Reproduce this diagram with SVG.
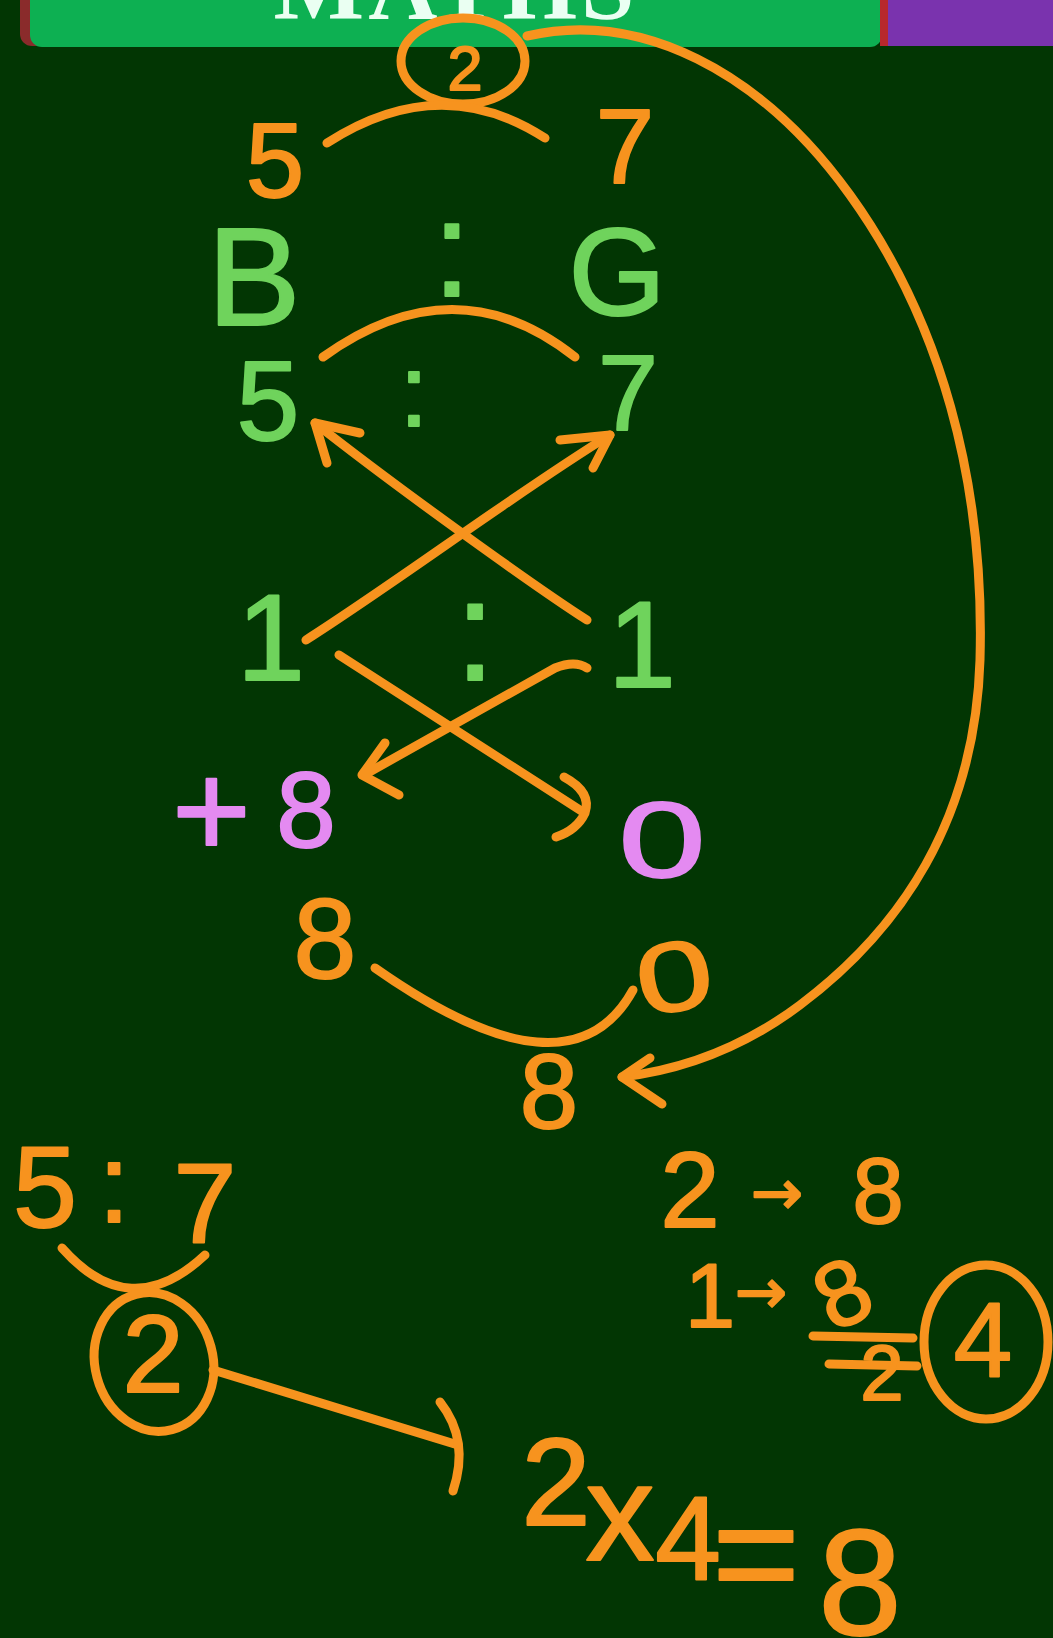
<svg xmlns="http://www.w3.org/2000/svg" width="1053" height="1638" viewBox="0 0 1053 1638">
<style>
.hw{font-family:"Liberation Sans","Arial",sans-serif;stroke-linejoin:round;stroke-width:2}
.o{fill:#f7931e;stroke:#f7931e}
.g{fill:#6fd35c;stroke:#6fd35c}
.p{fill:#e48af1;stroke:#e48af1}
.so{fill:none;stroke:#f7931e;stroke-width:9;stroke-linecap:round;stroke-linejoin:round}
.arr{font-family:"DejaVu Sans",sans-serif}
</style>
<rect x="0" y="0" width="1053" height="1638" fill="#023603"/>
<g id="header">
<rect x="20" y="-20" width="60" height="66" rx="12" fill="#8a2b2b"/>
<rect x="30" y="-20" width="852" height="67" rx="12" fill="#0db052"/>
<rect x="884" y="0" width="169" height="46" fill="#7a33ae"/>
<rect x="880" y="0" width="8" height="46" fill="#b8282c"/>
<text x="456" y="19" font-family="Liberation Serif,serif" font-weight="bold" font-size="96" text-anchor="middle" fill="#eafff2" letter-spacing="4">MATHS</text>
</g>
<g id="connectors">
<ellipse cx="463" cy="61" rx="62" ry="43" class="so" stroke-width="8"/>
<path class="so" d="M327,143 Q440,70 545,138"/>
<path class="so" d="M527,36 C640,10 760,70 850,195 C940,320 985,480 980,660 C975,820 900,930 800,1005 C740,1050 680,1070 622,1077"/>
<path class="so" d="M650,1058 L622,1077 L662,1104"/>
<path class="so" stroke-width="13" d="M323,357 Q455,262 575,357"/>
<path class="so" d="M587,620 C540,590 400,490 315,423"/>
<path class="so" d="M360,433 L315,423 L327,463"/>
<path class="so" d="M306,640 C400,580 520,490 610,435"/>
<path class="so" d="M560,440 L610,435 L593,468"/>
<path class="so" d="M339,655 L583,812"/>
<path class="so" d="M564,777 Q592,792 585,813 Q577,830 556,837"/>
<path class="so" d="M587,668 Q575,660 555,668 L364,775"/>
<path class="so" d="M385,743 L362,775 L399,795"/>
<path class="so" d="M375,968 Q570,1105 633,990"/>
<path class="so" d="M62,1248 Q130,1325 205,1255"/>
<ellipse cx="154" cy="1362" rx="59" ry="70" class="so" transform="rotate(-15 154 1362)"/>
<path class="so" d="M213,1370 L458,1445"/>
<path class="so" d="M440,1402 Q470,1440 453,1491"/>
<path class="so" d="M813,1336 L913,1338"/>
<path class="so" d="M829,1364 L917,1366"/>
<ellipse cx="986" cy="1342" rx="62" ry="77" class="so"/>
</g>
<g id="n-top-2"><text class="hw o" x="465" y="90" font-size="63" text-anchor="middle">2</text></g>
<g id="n-top-5"><text class="hw o" x="275" y="197" font-size="105" text-anchor="middle">5</text></g>
<g id="n-top-7"><text class="hw o" x="625" y="183" font-size="105" text-anchor="middle">7</text></g>
<g id="n-B"><text class="hw g" x="254" y="325" font-size="140" text-anchor="middle">B</text></g>
<g id="n-colon1"><text class="hw g" x="452" y="296" font-size="136" text-anchor="middle">:</text></g>
<g id="n-G"><text class="hw g" x="617" y="315" font-size="125" text-anchor="middle">G</text></g>
<g id="n-g5"><text class="hw g" x="268" y="440" font-size="113" text-anchor="middle">5</text></g>
<g id="n-colon2"><text class="hw g" x="414" y="426" font-size="102" text-anchor="middle">:</text></g>
<g id="n-g7"><text class="hw g" x="628" y="430" font-size="108" text-anchor="middle">7</text></g>
<g id="n-1a"><text class="hw g" x="271" y="680" font-size="122" text-anchor="middle">1</text></g>
<g id="n-colon3"><text class="hw g" x="475" y="680" font-size="143" text-anchor="middle">:</text></g>
<g id="n-1b"><text class="hw g" x="642" y="687" font-size="122" text-anchor="middle">1</text></g>
<g id="n-plus8"><text class="hw p"><tspan x="172" y="857" font-size="135">+</tspan><tspan x="306" y="847" font-size="107" text-anchor="middle">8</tspan></text></g>
<g id="n-p0"><text class="hw p" transform="translate(662 877) scale(1.45 1)" x="0" y="0" font-size="108" text-anchor="middle">0</text></g>
<g id="n-o8"><text class="hw o" x="325" y="978" font-size="113" text-anchor="middle">8</text></g>
<g id="n-o0"><text class="hw o" transform="translate(680 1010) rotate(-10) scale(1.4 1)" x="0" y="0" font-size="98" text-anchor="middle">0</text></g>
<g id="n-o8b"><text class="hw o" x="549" y="1128" font-size="105" text-anchor="middle">8</text></g>
<g id="n-ratio"><text class="hw o" font-size="115"><tspan x="45" y="1227" text-anchor="middle">5</tspan><tspan x="114" y="1222" font-size="112" text-anchor="middle">:</tspan><tspan x="205" y="1243" font-size="113" text-anchor="middle">7</tspan></text></g>
<g id="n-c2"><text class="hw o" x="153" y="1392" font-size="110" text-anchor="middle">2</text></g>
<g id="n-2to8"><text class="hw o"><tspan x="690" y="1227" font-size="107" text-anchor="middle">2</tspan><tspan class="arr" x="777" y="1214" font-size="62" text-anchor="middle">→</tspan><tspan x="878" y="1223" font-size="92" text-anchor="middle">8</tspan></text></g>
<g id="n-1to"><text class="hw o"><tspan x="710" y="1327" font-size="90" text-anchor="middle">1</tspan><tspan class="arr" x="761" y="1313" font-size="62" text-anchor="middle">→</tspan></text></g>
<g id="n-frac"><text class="hw o" transform="translate(856 1322) rotate(-25)" x="0" y="0" font-size="92" text-anchor="middle">8</text><text class="hw o" x="882" y="1400" font-size="78" text-anchor="middle">2</text></g>
<g id="n-c4"><text class="hw o" x="983" y="1377" font-size="105" text-anchor="middle">4</text></g>
<g id="n-eq"><text class="hw o"><tspan x="556" y="1525" font-size="125" text-anchor="middle">2</tspan><tspan x="620" y="1560" font-size="138" text-anchor="middle">x</tspan><tspan x="688" y="1580" font-size="118" text-anchor="middle">4</tspan><tspan x="756" y="1605" font-size="150" text-anchor="middle">=</tspan><tspan x="860" y="1635" font-size="150" text-anchor="middle">8</tspan></text></g>
</svg>
